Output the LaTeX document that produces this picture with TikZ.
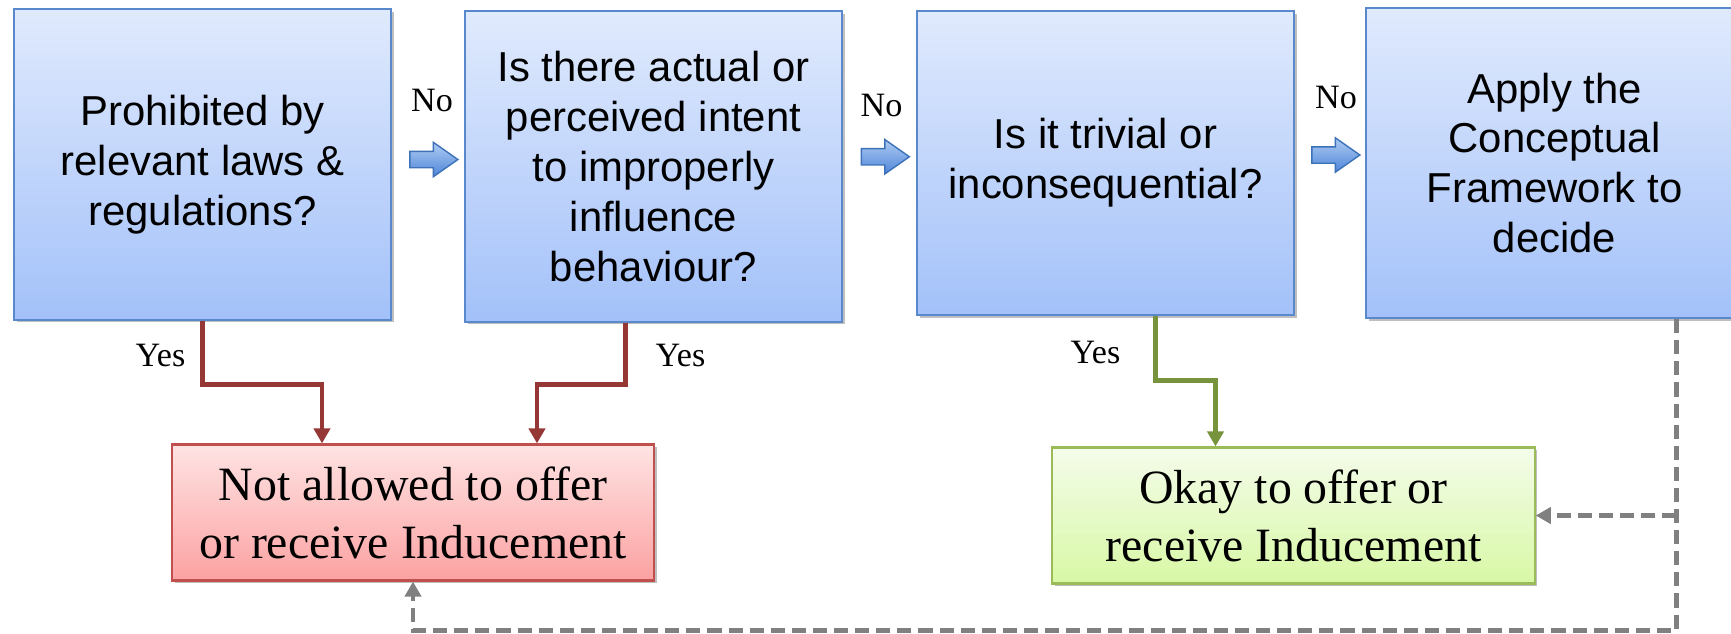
\documentclass[tikz,border=0pt]{standalone}
\usepackage{fontspec}
\setmainfont{Liberation Serif}
\setsansfont{Liberation Sans}
\usetikzlibrary{shapes.arrows,arrows.meta,calc,shadows}

\definecolor{qtop}{HTML}{E0EAFD}
\definecolor{qbot}{HTML}{A3C1F9}
\definecolor{qline}{HTML}{5A88CC}
\definecolor{rtop}{HTML}{FEE3E3}
\definecolor{rbot}{HTML}{FCA2A2}
\definecolor{rline}{HTML}{C0504D}
\definecolor{gtop}{HTML}{F4FCEB}
\definecolor{gbot}{HTML}{D8F8A5}
\definecolor{gline}{HTML}{9BBB59}
\definecolor{atop}{HTML}{AFCBF2}
\definecolor{abot}{HTML}{4F86D9}
\definecolor{aline}{HTML}{3D72B8}
\definecolor{yesred}{HTML}{953735}
\definecolor{yesgreen}{HTML}{77933C}
\definecolor{backgray}{HTML}{808080}

\tikzset{
  boxshadow/.style={drop shadow={shadow xshift=0.8pt, shadow yshift=-0.8pt, fill=black, opacity=0.25}},
  question/.style={boxshadow, draw=qline, line width=0.6pt, top color=qtop, bottom color=qbot,
    minimum width=3.77cm, minimum height=3.1cm, inner sep=0pt, align=center,
    font=\sffamily\fontsize{11.9pt}{14.2pt}\selectfont},
  outcome/.style={boxshadow, line width=0.6pt, minimum width=4.82cm, minimum height=1.36cm,
    inner sep=0pt, align=center, font=\fontsize{13.6pt}{16.5pt}\selectfont},
  notok/.style={outcome, draw=rline, top color=rtop, bottom color=rbot},
  okay/.style={outcome, draw=gline, top color=gtop, bottom color=gbot},
  goarrow/.style={single arrow, draw=aline, line width=0.4pt, top color=atop, bottom color=abot,
    minimum height=0.48cm, inner xsep=0pt, inner ysep=0.075cm, single arrow head extend=0.09cm,
    single arrow tip angle=70},
  answer/.style={font=\fontsize{9.7pt}{11pt}\selectfont, inner sep=0pt},
  tip/.style={-{Triangle[length=4.3pt,width=4.6pt]}},
  redline/.style={tip, draw=yesred, line width=1.4pt},
  greenline/.style={tip, draw=yesgreen, line width=1.4pt},
  fallback/.style={tip, draw=backgray, line width=1.4pt, dash pattern=on 4pt off 2pt}
}

\begin{document}
\begin{tikzpicture}[x=0.01cm,y=-0.01cm]
    % Canvas
    \fill[white] (0,0) rectangle (1731,633);
    \useasboundingbox (0,0) rectangle (1731,633);

    % Questions
    \node[question] (b1) at (202.5,164.5) {Prohibited by\\relevant laws \&\\regulations?};
    \node[question] (b2) at (653.5,166.5) {Is there actual or\\perceived intent\\to improperly\\influence\\behaviour?};
    \node[question, minimum height=3.04cm] (b3) at (1105.5,163) {Is it trivial or\\inconsequential?};
    \node[question] (b4) at (1554.5,163) {Apply the\\Conceptual\\Framework to\\decide};

    % Outcomes
    \node[notok] (no) at (413,512.5) {Not allowed to offer\\or receive Inducement};
    \node[okay] (ok) at (1293.5,515.5) {Okay to offer or\\receive Inducement};

    % No arrows
    \node[goarrow] (a1) at ($(b1.east)!0.5!(b2.west)+(0,-6)$) {};
    \node[goarrow] (a2) at ($(b2.east)!0.5!(b3.west)+(0,-8)$) {};
    \node[goarrow] (a3) at ($(b3.east)!0.5!(b4.west)+(0,-8)$) {};
    \node[answer] (n1) at ($(a1)+(4,-59)$) {No};
    \node[answer] (n2) at ($(a2)+(2,-51)$) {No};
    \node[answer] (n3) at ($(a3)+(6,-58)$) {No};

    % Yes lines
    \draw[redline] (b1.south) -- ++(0,64) -| ($(no.north)+(-91,0)$);
    \draw[redline] ($(b2.south)+(-28,0)$) -- ++(0,62) -| ($(no.north)+(124,0)$);
    \draw[greenline] ($(b3.south)+(50,0)$) -- ++(0,64) -| ($(ok.north)+(-78,0)$);
    \node[answer] (y1) at ($(b1.south)+(-42,35)$) {Yes};
    \node[answer] (y2) at ($(b2.south)+(27,33)$) {Yes};
    \node[answer] (y3) at ($(b3.south)+(-10,36)$) {Yes};

    % Framework result
    \coordinate (tap) at ($(b4.south)+(122,0)$);
    \draw[fallback] (tap) -- ++(0,311) -| (no.south);
    \draw[fallback] (tap |- ok.east) -- (ok.east);
\end{tikzpicture}
\end{document}
